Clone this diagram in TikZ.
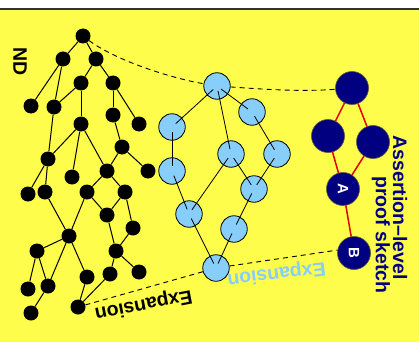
\documentclass[tikz,border=0pt]{standalone}
\usepackage{fontspec}
\setmainfont{Liberation Sans}
\definecolor{bgyellow}{RGB}{255,253,75}
\definecolor{nodeblue}{RGB}{135,206,250}
\definecolor{deepnavy}{RGB}{0,0,128}
\definecolor{edgered}{RGB}{225,0,0}
\tikzset{
  nd/.style={circle,fill=black,inner sep=0pt,minimum size=15pt},
  ex/.style={circle,fill=nodeblue,draw=black,line width=0.8pt,inner sep=0pt,minimum size=26.5pt},
  al/.style={circle,fill=deepnavy,draw=black!75!yellow,line width=0.6pt,inner sep=0pt,minimum size=33pt,text=white,font=\fontsize{15}{15}\selectfont\bfseries},
  ndedge/.style={line width=1pt,black},
  exedge/.style={line width=0.8pt,black,shorten <=5pt,shorten >=5pt},
  aledge/.style={line width=1.5pt,edgered},
  dashconn/.style={line width=0.9pt,dash pattern=on 5pt off 4pt},
  bigtxt/.style={font=\fontsize{19.5}{19.5}\selectfont\bfseries,inner sep=0pt}
}
\begin{document}
\begin{tikzpicture}[x=1pt,y=-1pt]
\useasboundingbox (0,0) rectangle (419,342);
\fill[white] (0,0) rectangle (419,342);
\fill[bgyellow] (0,9) rectangle (419,342);
\draw[line width=1.5pt,black!80] (0,9) -- (419,9);

% ND nodes
\foreach \n/\x/\y in {n1/83/36,n2/63/59,n3/96/59,n4/81/83,n5/113/83,n6/31/106,n7/54/107,
  n8/81/124,n9/113/115,n10/139/124,n11/122/147,n12/48/159,n13/107/171,n14/148/171,
  n15/72/177,n16/28/194,n17/45/192,n18/87/192,n19/125/192,n20/107/215,n21/69/236,
  n22/133/228,n23/37/251,n24/116/251,n25/28/289,n26/48/286,n27/87/277,n28/110/274,
  n29/139/272,n30/31/313,n31/78/307}
  \node[nd] (\n) at (\x,\y) {};

\foreach \a/\b in {n1/n2,n1/n3,n2/n6,n2/n7,n7/n12,n3/n4,n7/n4,n3/n5,n4/n8,n5/n9,n5/n10,
  n9/n11,n8/n12,n8/n15,n8/n13,n11/n13,n11/n14,n12/n16,n12/n17,n13/n18,n13/n19,
  n18/n20,n19/n20,n17/n21,n18/n21,n19/n22,n20/n24,n22/n24,n21/n23,n21/n26,n21/n27,
  n23/n25,n23/n26,n26/n30,n27/n31,n28/n31,n24/n28,n24/n29}
  \draw[ndedge] (\a) -- (\b);

% expansion nodes
\foreach \n/\x/\y in {b1/217/86,b2/252/112,b3/172/127,b4/231/154,b5/277/154,b6/172/171,
  b7/254/189,b8/189/214,b9/234/229,b10/216/268}
  \node[ex] (\n) at (\x,\y) {};

\foreach \a/\b in {b1/b3,b1/b4,b1/b2,b2/b5,b3/b6,b4/b8,b4/b7,b5/b7,b6/b8,b7/b9,b8/b10,b9/b10}
  \draw[exedge] (\a.center) -- (\b.center);

% assertion-level nodes
\node[al] (d1) at (352,88) {};
\node[al] (d2) at (328,136) {};
\node[al] (d3) at (373,142) {};
\node[al] (A) at (343,189) {\rotatebox{-90}{A}};
\node[al] (B) at (354,253) {\rotatebox{-90}{B}};
\draw[aledge] (d1) -- (d2);
\draw[aledge] (d1) -- (d3);
\draw[aledge] (d2) -- (A);
\draw[aledge] (d3) -- (A);
\draw[aledge] (A) -- (B);

% dashed connectors
\draw[dashconn] (n1) .. controls (115,60) and (170,78) .. (b1);
\draw[dashconn] (b1) .. controls (260,89) and (300,92) .. (d1);
\draw[dashconn] (n31) -- (b10);
\draw[dashconn] (b10) -- (B.170);

% labels
\node[bigtxt,rotate=-90] (lnd) at (20,62) {ND};
\node[bigtxt,rotate=191] (lexp1) at (143.5,304.5) {Expansion};
\node[bigtxt,rotate=187,text=nodeblue] (lexp2) at (276.5,273.5) {Expansion};
\node[bigtxt,rotate=-90,text=deepnavy] (lal1) at (400,207.5) {Assertion–level};
\node[bigtxt,rotate=-90,text=deepnavy] (lal2) at (381,235) {proof sketch};
\end{tikzpicture}
\end{document}
